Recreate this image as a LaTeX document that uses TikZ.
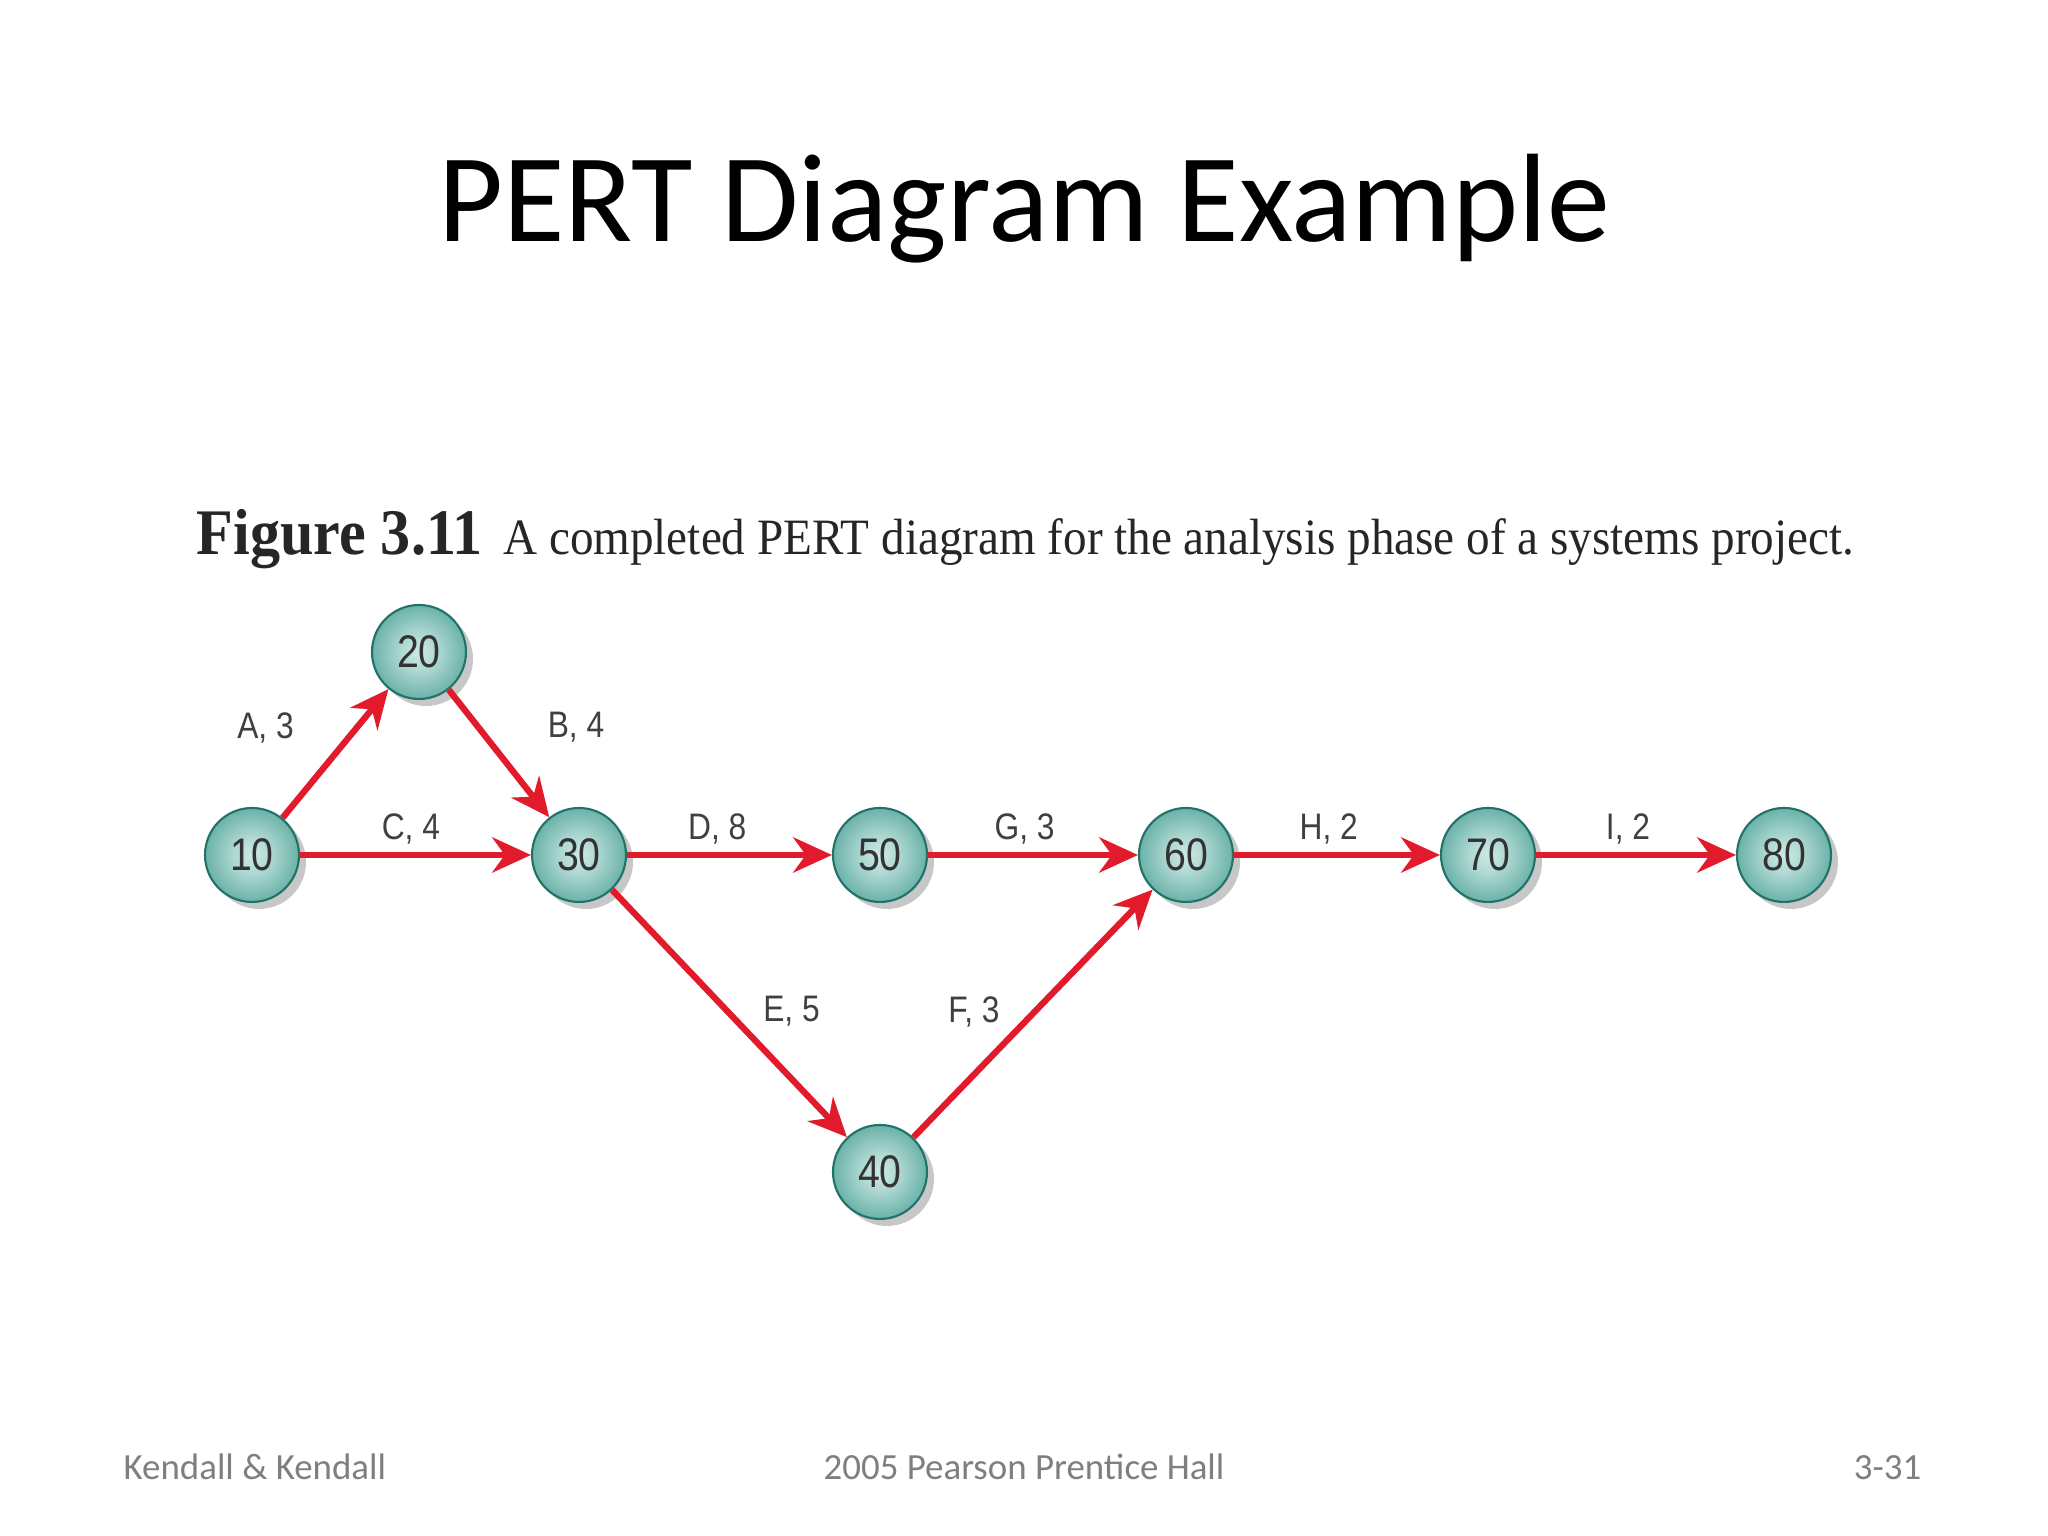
\documentclass[tikz,border=0pt]{standalone}
\usepackage{fontspec}
\setmainfont{Carlito}
\newfontfamily\lblfont[FakeStretch=0.86]{Liberation Sans}
\newfontfamily\capfont[FakeStretch=0.925]{Liberation Serif}
\usetikzlibrary{arrows.meta,shadows,positioning}
\definecolor{pertred}{HTML}{E21B2C}
\definecolor{tealout}{HTML}{2F9086}
\definecolor{tealin}{HTML}{CDEAE4}
\definecolor{tealedge}{HTML}{227268}
\definecolor{footgray}{HTML}{7F7F7F}
\pgfdeclareradialshading{tealball}{\pgfpoint{0bp}{0bp}}{color(0bp)=(tealin); color(10bp)=(tealin!80!tealout); color(26bp)=(tealin!35!tealout); color(40bp)=(tealout); color(50bp)=(tealedge)}
\tikzset{>={Stealth[length=11pt,width=10pt]}}
\tikzset{
  event/.style={circle, minimum size=0.94cm, inner sep=0pt, draw=tealedge, line width=0.6pt,
    shading=tealball,
    drop shadow={shadow xshift=0.07cm, shadow yshift=-0.07cm, opacity=0.22, fill=black},
    font=\lblfont\fontsize{13}{14}\selectfont, text=black!80},
  act/.style={->, draw=pertred, line width=1.8pt},
  lbl/.style={font=\lblfont\fontsize{10.5}{12}\selectfont, text=black!75}
}

\begin{document}
\begin{tikzpicture}
      \useasboundingbox[fill=white] (0,0) rectangle (20.48,15.36);
      \node[anchor=base, font=\fontsize{35.8}{44}\selectfont] (title) at (10.24,12.94) {PERT Diagram Example};
      \node[anchor=base west, inner sep=0pt, font=\capfont\fontsize{14.5}{17}\selectfont, text=black!85] (cap) at (1.96,9.81) {{\fontsize{18.5}{20}\selectfont\bfseries Figure 3.11}\hspace{0.4em}A completed PERT diagram for the analysis phase of a systems project.};
      % events
      \node[event] (n10) at (2.52,6.81) {10};
      \node[event] (n20) at (4.19,8.84) {20};
      \node[event, right of=n10, node distance=3.27cm] (n30) {30};
      \node[event, right of=n30, node distance=3.01cm] (n50) {50};
      \node[event, right of=n50, node distance=3.06cm] (n60) {60};
      \node[event, right of=n60, node distance=3.02cm] (n70) {70};
      \node[event, right of=n70, node distance=2.96cm] (n80) {80};
      \node[event, below of=n50, node distance=3.17cm] (n40) {40};
      % activities
      \draw[act] (n10) to node[lbl, midway, xshift=-0.7cm, yshift=0.26cm]{A, 3} (n20);
      \draw[act] (n20) to node[lbl, midway, xshift=0.77cm, yshift=0.26cm]{B, 4} (n30);
      \draw[act] (n10) to node[lbl, pos=0.48, above, yshift=-0.04cm]{C, 4} (n30);
      \draw[act] (n30) to node[lbl, pos=0.44, above, yshift=-0.04cm]{D, 8} (n50);
      \draw[act] (n30) to node[lbl, midway, xshift=0.62cm, yshift=0.02cm]{E, 5} (n40);
      \draw[act] (n40) to node[lbl, midway, xshift=-0.59cm, yshift=0.02cm]{F, 3} (n60);
      \draw[act] (n50) to node[lbl, pos=0.46, above, yshift=-0.04cm]{G, 3} (n60);
      \draw[act] (n60) to node[lbl, pos=0.46, above, yshift=-0.04cm]{H, 2} (n70);
      \draw[act] (n70) to node[lbl, pos=0.46, above, yshift=-0.04cm]{I, 2} (n80);
      % footer
      \node[anchor=base west, inner sep=0pt, text=footgray, font=\fontsize{10.5}{12}\selectfont] (f1) at (1.23,0.56) {Kendall \& Kendall};
      \node[anchor=base, inner sep=0pt, text=footgray, font=\fontsize{10.5}{12}\selectfont] (f2) at (10.24,0.56) {2005 Pearson Prentice Hall};
      \node[anchor=base east, inner sep=0pt, text=footgray, font=\fontsize{10.5}{12}\selectfont] (f3) at (19.22,0.56) {3-31};
\end{tikzpicture}
\end{document}
